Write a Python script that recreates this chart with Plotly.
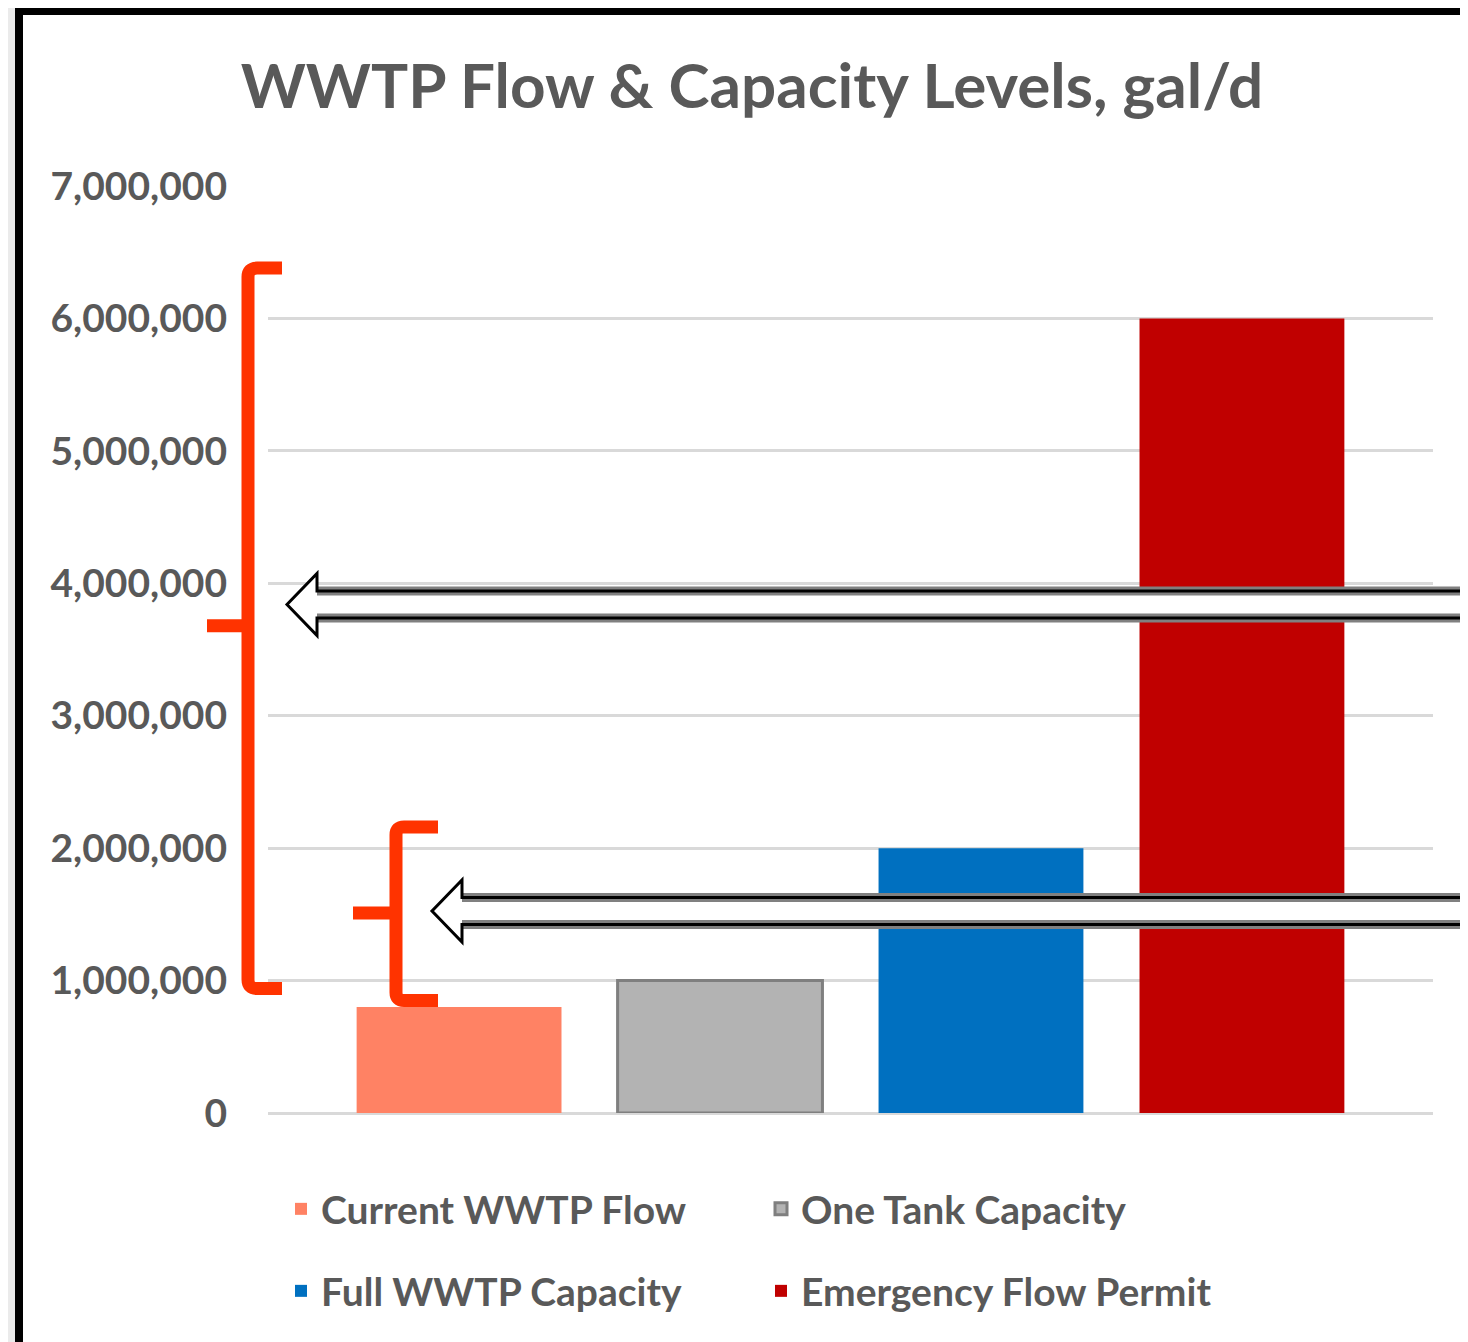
import plotly.graph_objects as go

# ---- data ----
series_names = ["Current WWTP Flow", "One Tank Capacity", "Full WWTP Capacity", "Emergency Flow Permit"]
series_values = [800000, 1000000, 2000000, 6000000]
series_colors = ["#FF8264", "#B3B3B3", "#0070C0", "#C00000"]
category = ["gal/d"]
y_ticks = [0, 1000000, 2000000, 3000000, 4000000, 5000000, 6000000, 7000000]
title_text = "WWTP Flow & Capacity Levels, gal/d"

# ---- layout geometry (reference pixels; page body has an 8px margin) ----
OFF = 8
W, H = 1468, 1342
FW, FH = W - OFF, H - OFF
L, R, T, B = 268, 1433, 186, 1113
PW, PH = R - L, B - T
YMAX = 7000000

def X(px):
    return (px - L) / PW

def Ypx(py):
    return (B - py) / PH

def Yv(v):
    return v / YMAX

FONT = "Lato"
GREY_TXT = "#595959"

fig = go.Figure()
for i, (name, val, col) in enumerate(zip(series_names, series_values, series_colors)):
    fig.add_trace(go.Bar(
        x=category, y=[val], name=name,
        marker=dict(color=col,
                    line=dict(color="#7F7F7F" if i == 1 else col, width=3 if i == 1 else 0)),
        legend="legend" if i < 2 else "legend2",
        hoverinfo="name+y",
    ))

shapes = []
# outer frame
shapes.append(dict(type="rect", xref="paper", yref="paper", x0=X(-20), x1=X(15), y0=Ypx(H + 20), y1=Ypx(-20),
                   fillcolor="#EBEBEB", line_width=0, layer="below"))
shapes.append(dict(type="rect", xref="paper", yref="paper", x0=X(-20), x1=X(W + 20), y0=Ypx(7), y1=Ypx(-20),
                   fillcolor="#EBEBEB", line_width=0, layer="below"))
shapes.append(dict(type="rect", xref="paper", yref="paper", x0=X(15), x1=X(23), y0=Ypx(H + 20), y1=Ypx(7),
                   fillcolor="#000000", line_width=0))
shapes.append(dict(type="rect", xref="paper", yref="paper", x0=X(15), x1=X(W + 20), y0=Ypx(15), y1=Ypx(7),
                   fillcolor="#000000", line_width=0))

# braces
def brace(xv, xend, xnub, v_top, v_mid, v_bot, r=9):
    yt, ym, yb = Yv(v_top), Yv(v_mid), Yv(v_bot)
    ry = r / PH
    rx = r / PW
    p = (f"M {X(xend)},{yt} L {X(xv)+rx},{yt} Q {X(xv)},{yt} {X(xv)},{yt-ry} "
         f"L {X(xv)},{ym} L {X(xnub)},{ym} M {X(xv)},{ym} "
         f"L {X(xv)},{yb+ry} Q {X(xv)},{yb} {X(xv)+rx},{yb} L {X(xend)},{yb}")
    return dict(type="path", xref="paper", yref="paper", path=p,
                line=dict(color="#FF3300", width=13))

shapes.append(brace(248, 282, 207, 6380000, 3680000, 940000))
shapes.append(brace(396, 438, 353, 2160000, 1510000, 850000, r=8))

# hollow arrows
def arrow(tip_px, v_center, head_dx=30, half_shaft=13.5, half_head=31):
    yc = B - v_center / YMAX * PH  # pixel y of centre
    tx = tip_px
    hx = tip_px + head_dx
    xe = W + 20
    up, lo = yc - half_shaft, yc + half_shaft
    hu, hl = yc - half_head, yc + half_head
    fill_path = (f"M {X(tx)},{Ypx(yc)} L {X(hx)},{Ypx(hu)} L {X(hx)},{Ypx(up)} L {X(xe)},{Ypx(up)} "
                 f"L {X(xe)},{Ypx(lo)} L {X(hx)},{Ypx(lo)} L {X(hx)},{Ypx(hl)} Z")
    out = [dict(type="path", xref="paper", yref="paper", path=fill_path,
                fillcolor="white", line=dict(width=0))]
    for yy in (up, lo):
        out.append(dict(type="line", xref="paper", yref="paper", x0=X(hx), x1=X(xe),
                        y0=Ypx(yy), y1=Ypx(yy), line=dict(color="#808080", width=9)))
    line_path = (f"M {X(xe)},{Ypx(up)} L {X(hx)},{Ypx(up)} L {X(hx)},{Ypx(hu)} L {X(tx)},{Ypx(yc)} "
                 f"L {X(hx)},{Ypx(hl)} L {X(hx)},{Ypx(lo)} L {X(xe)},{Ypx(lo)}")
    out.append(dict(type="path", xref="paper", yref="paper", path=line_path,
                    line=dict(color="#000000", width=3)))
    return out

shapes += arrow(287, 3840000)
shapes += arrow(432, 1525000)

legend_common = dict(orientation="h", font=dict(family=FONT, size=39, color=GREY_TXT, weight="bold"),
                     entrywidth=435, entrywidthmode="pixels", bgcolor="rgba(0,0,0,0)",
                     xanchor="left", yanchor="middle", traceorder="normal")

fig.update_layout(
    width=FW, height=FH, autosize=False,
    margin=dict(l=L - OFF, r=W - R, t=T - OFF, b=H - B, pad=0),
    paper_bgcolor="white", plot_bgcolor="white",
    barmode="group", bargap=0.104, bargroupgap=0.215,
    title=dict(text=title_text, x=(752 - OFF) / FW, xanchor="center", xref="container",
               y=1 - (86 - OFF) / FH, yanchor="middle", yref="container",
               font=dict(family=FONT, size=62, color=GREY_TXT, weight="bold")),
    xaxis=dict(type="category", range=[-0.5, 0.5], showticklabels=False, showgrid=False,
               zeroline=False, showline=False, ticks=""),
    yaxis=dict(range=[0, YMAX], tickvals=y_ticks, tickformat=",", showgrid=True,
               gridcolor="#D9D9D9", gridwidth=3, zeroline=True, zerolinecolor="#D9D9D9",
               zerolinewidth=3, showline=False, ticks="", ticklabelstandoff=40,
               tickfont=dict(family=FONT, size=39, color=GREY_TXT, weight="bold")),
    legend=dict(legend_common, x=X(281), y=Ypx(1209)),
    legend2=dict(legend_common, x=X(281), y=Ypx(1291)),
    shapes=shapes,
    showlegend=True,
)

fig.write_html("out.html")
